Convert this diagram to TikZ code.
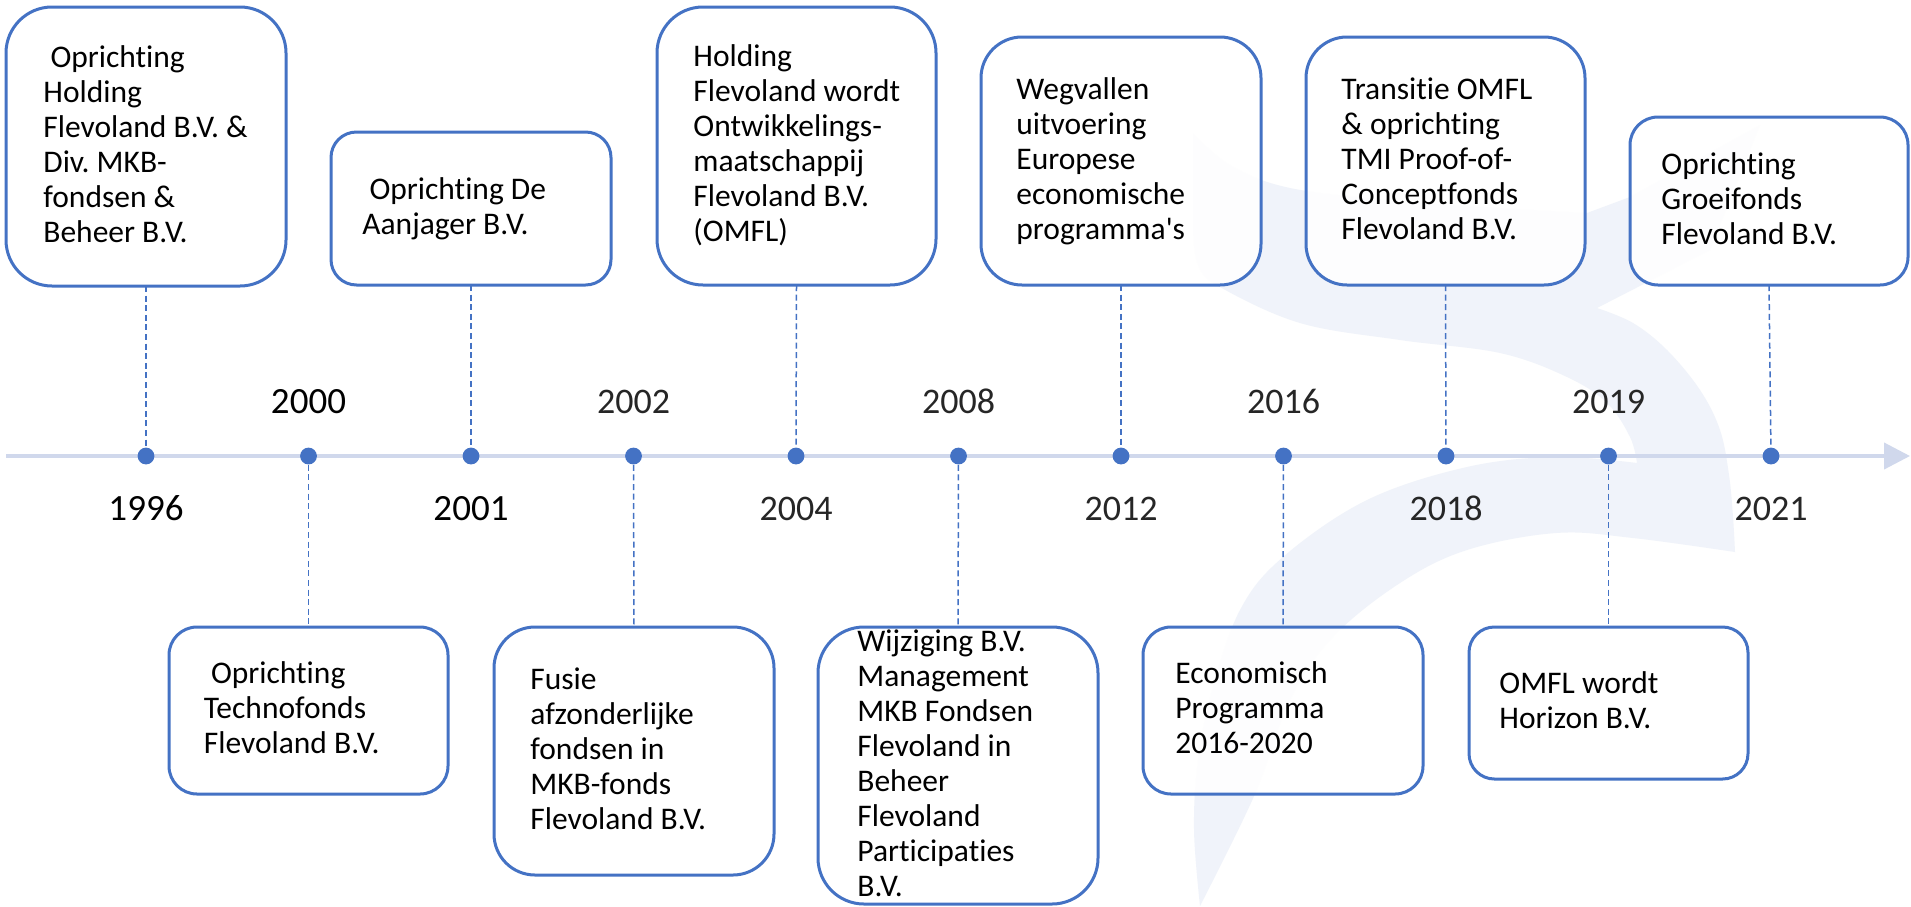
\documentclass[tikz,border=0pt]{standalone}
\usepackage{fontspec}
\setmainfont{Carlito}[Ligatures={TeX,NoCommon}]
\usetikzlibrary{arrows.meta}
\definecolor{dotblue}{RGB}{68,114,196}
\definecolor{tlcol}{RGB}{208,216,236}
\definecolor{swcol}{RGB}{240,243,250}
\newcommand\tbx[1]{\parbox[t]{140pt}{\raggedright #1}}
\newcommand\lsp{\hspace*{0.226em}}
\tikzset{
  boxstyle/.style={draw=dotblue, line width=1.5pt, fill=white, fill opacity=0.9, draw opacity=1, inner sep=0pt, outer sep=0pt},
  conn/.style={draw=dotblue, line width=0.75pt, dash pattern=on 3pt off 1.8pt},
  dotstyle/.style={circle, fill=dotblue, inner sep=0pt, minimum size=8.4pt},
  txt/.style={inner sep=0pt, anchor=base west, font=\fontsize{15.75pt}{17.5pt}\selectfont},
  yr/.style={inner sep=0pt, anchor=base, font=\fontsize{18pt}{21pt}\selectfont, text=black!85},
  yrb/.style={yr, text=black, font=\fontsize{18.5pt}{21pt}\selectfont},
  tl/.style={draw=tlcol, line width=2pt},
  swoosh/.style={fill=swcol}
}
\begin{document}
\frenchspacing
\begin{tikzpicture}[x=0.5pt, y=-0.5pt]
\useasboundingbox (0,0) rectangle (1911,906);
\fill[white] (0,0) rectangle (1911,906);

% faint background swoosh
\fill[swoosh]
  plot[smooth, tension=0.6] coordinates {(1193,133) (1230,165) (1290,188) (1400,201) (1500,208) (1587,213)}
  -- (1630,197) -- (1760,125) -- (1710,250) -- (1597,308)
  -- plot[smooth, tension=0.6] coordinates {(1597,308) (1633,323) (1667,350) (1700,390) (1720,430) (1729,475) (1733,517) (1735,552)}
  -- plot[smooth, tension=0.6] coordinates {(1735,552) (1633,538) (1556,533) (1467,550) (1400,583) (1333,637) (1290,700) (1255,794) (1200,906)}
  -- plot[smooth, tension=0.6] coordinates {(1200,906) (1194,830) (1198,760) (1212,690) (1240,610) (1283,557) (1367,500) (1467,467) (1556,457) (1637,463)}
  -- plot[smooth, tension=0.6] coordinates {(1637,463) (1630,437) (1607,403) (1567,377) (1500,353) (1400,340) (1300,323) (1220,287) (1198,265) (1193,230)}
  -- cycle;

% timeline
\coordinate (ts) at (6,456);
\coordinate (te) at (1910,456);
\draw[tl, -{Triangle[length=13pt, width=13pt]}] (ts) -- (te);

% dots
\node[dotstyle] (d0) at (146,456) {};
\node[dotstyle] (d1) at (308.5,456) {};
\node[dotstyle] (d2) at (471,456) {};
\node[dotstyle] (d3) at (633.5,456) {};
\node[dotstyle] (d4) at (796,456) {};
\node[dotstyle] (d5) at (958.5,456) {};
\node[dotstyle] (d6) at (1121,456) {};
\node[dotstyle] (d7) at (1283.5,456) {};
\node[dotstyle] (d8) at (1446,456) {};
\node[dotstyle] (d9) at (1608.5,456) {};
\node[dotstyle] (d10) at (1771,456) {};

% boxes
\node[boxstyle, rounded corners=23pt, minimum width=140pt, minimum height=139.5pt] (b1) at (146,146.5) {};
\node[boxstyle, rounded corners=12.75pt, minimum width=140pt, minimum height=76.5pt] (b2) at (471,208.5) {};
\node[boxstyle, rounded corners=23pt, minimum width=139.5pt, minimum height=139pt] (b3) at (796.5,146) {};
\node[boxstyle, rounded corners=20.5pt, minimum width=140pt, minimum height=124pt] (b4) at (1121,161) {};
\node[boxstyle, rounded corners=20.5pt, minimum width=139.5pt, minimum height=124pt] (b5) at (1445.5,161) {};
\node[boxstyle, rounded corners=14pt, minimum width=139pt, minimum height=84pt] (b6) at (1769,201) {};
\node[boxstyle, rounded corners=14pt, minimum width=139.5pt, minimum height=83.5pt] (b7) at (308.5,710.5) {};
\node[boxstyle, rounded corners=20.5pt, minimum width=140pt, minimum height=124pt] (b8) at (634,751) {};
\node[boxstyle, rounded corners=23pt, minimum width=140pt, minimum height=138.5pt] (b9) at (958,765.5) {};
\node[boxstyle, rounded corners=14pt, minimum width=140pt, minimum height=83.5pt] (b10) at (1283,710.5) {};
\node[boxstyle, rounded corners=12.7pt, minimum width=139.5pt, minimum height=76pt] (b11) at (1608.5,703) {};

% connectors
\draw[conn] (b1.south) -- (d0);
\draw[conn] (d1) -- (b7.north);
\draw[conn] (b2.south) -- (d2);
\draw[conn] (d3) -- (b8.north);
\draw[conn] (b3.south) -- (d4);
\draw[conn] (d5) -- (b9.north);
\draw[conn] (b4.south) -- (d6);
\draw[conn] (d7) -- (b10.north);
\draw[conn] (b5.south) -- (d8);
\draw[conn] (d9) -- (b11.north);
\draw[conn] (b6.south) -- (d10);

% box texts
\node[txt] (t1) at (43,67) {\tbx{\lsp Oprichting\\Holding\\Flevoland B.V. \&\\Div. MKB-\\fondsen \&\\Beheer B.V.}};
\node[txt] (t2) at (362,199) {\tbx{\lsp Oprichting De\\Aanjager B.V.}};
\node[txt] (t3) at (693,66.5) {\tbx{Holding\\Flevoland wordt\\Ontwikkelings-\\maatschappij\\Flevoland B.V.\\(OMFL)}};
\node[txt] (t4) at (1016,99) {\tbx{Wegvallen\\uitvoering\\Europese\\economische\\programma\textquotesingle s}};
\node[txt] (t5) at (1341,99) {\tbx{Transitie OMFL\\\& oprichting\\TMI Proof-of-\\Conceptfonds\\Flevoland B.V.}};
\node[txt] (t6) at (1661,174) {\tbx{Oprichting\\Groeifonds\\Flevoland B.V.}};
\node[txt] (t7) at (203.5,683.5) {\tbx{\lsp Oprichting\\Technofonds\\Flevoland B.V.}};
\node[txt] (t8) at (530,689) {\tbx{Fusie\\afzonderlijke\\fondsen in\\MKB-fonds\\Flevoland B.V.}};
\node[txt] (t9) at (857,651) {\tbx{Wijziging B.V.\\Management\\MKB Fondsen\\Flevoland in\\Beheer\\Flevoland\\Participaties\\B.V.}};
\node[txt] (t10) at (1175,683.5) {\tbx{Economisch\\Programma\\2016-2020}};
\node[txt] (t11) at (1499,693.5) {\tbx{OMFL wordt\\Horizon B.V.}};

% years
\node[yrb] (y0) at (146,520) {1996};
\node[yrb] (y1) at (308.5,413) {2000};
\node[yrb] (y2) at (471,520) {2001};
\node[yr] (y3) at (633.5,413) {2002};
\node[yr] (y4) at (796,520) {2004};
\node[yr] (y5) at (958.5,413) {2008};
\node[yr] (y6) at (1121,520) {2012};
\node[yr] (y7) at (1283.5,413) {2016};
\node[yr] (y8) at (1446,520) {2018};
\node[yr] (y9) at (1608.5,413) {2019};
\node[yr] (y10) at (1771,520) {2021};
\end{tikzpicture}
\end{document}
